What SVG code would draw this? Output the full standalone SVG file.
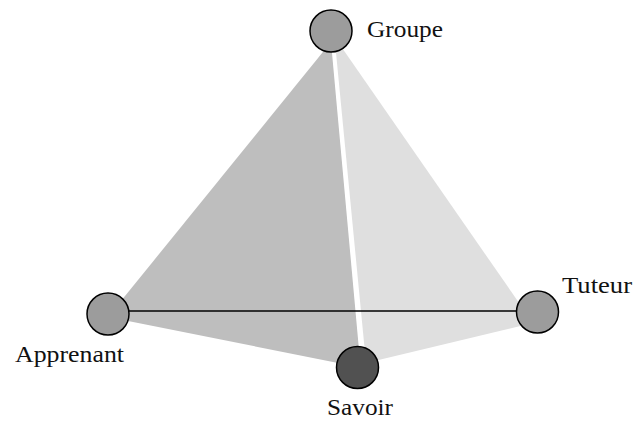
<svg xmlns="http://www.w3.org/2000/svg" width="639" height="423" viewBox="0 0 639 423">
<style>
.node{fill:#9c9c9c;stroke:#000;stroke-width:1.5}
.dark{fill:#515151;stroke:#000;stroke-width:1.5}
.lbl{font-family:"Liberation Serif","Times New Roman",serif;font-size:23px;fill:#111}
</style>
<rect width="639" height="423" fill="#fff"/>
<g id="faces">
<polygon points="331,42 108,317 360.6,367.5" fill="#bebebe"/>
<polygon points="334.5,37 533,323 366,363" fill="#dfdfdf"/>
</g>
<g id="connectors">
<line x1="108" y1="311" x2="537" y2="311" stroke="#000" stroke-width="1.5"/>
</g>
<g id="groupe"><circle class="node" cx="331" cy="31" r="21"/><text class="lbl" x="367" y="37" textLength="76" lengthAdjust="spacingAndGlyphs">Groupe</text></g>
<g id="apprenant"><circle class="node" cx="108" cy="314" r="21"/><text class="lbl" x="15" y="362" textLength="109" lengthAdjust="spacingAndGlyphs">Apprenant</text></g>
<g id="savoir"><circle class="dark" cx="357.5" cy="367.5" r="21"/><text class="lbl" x="327" y="415" textLength="66" lengthAdjust="spacingAndGlyphs">Savoir</text></g>
<g id="tuteur"><circle class="node" cx="537.5" cy="312" r="21"/><text class="lbl" x="562" y="293" textLength="70" lengthAdjust="spacingAndGlyphs">Tuteur</text></g>
</svg>
